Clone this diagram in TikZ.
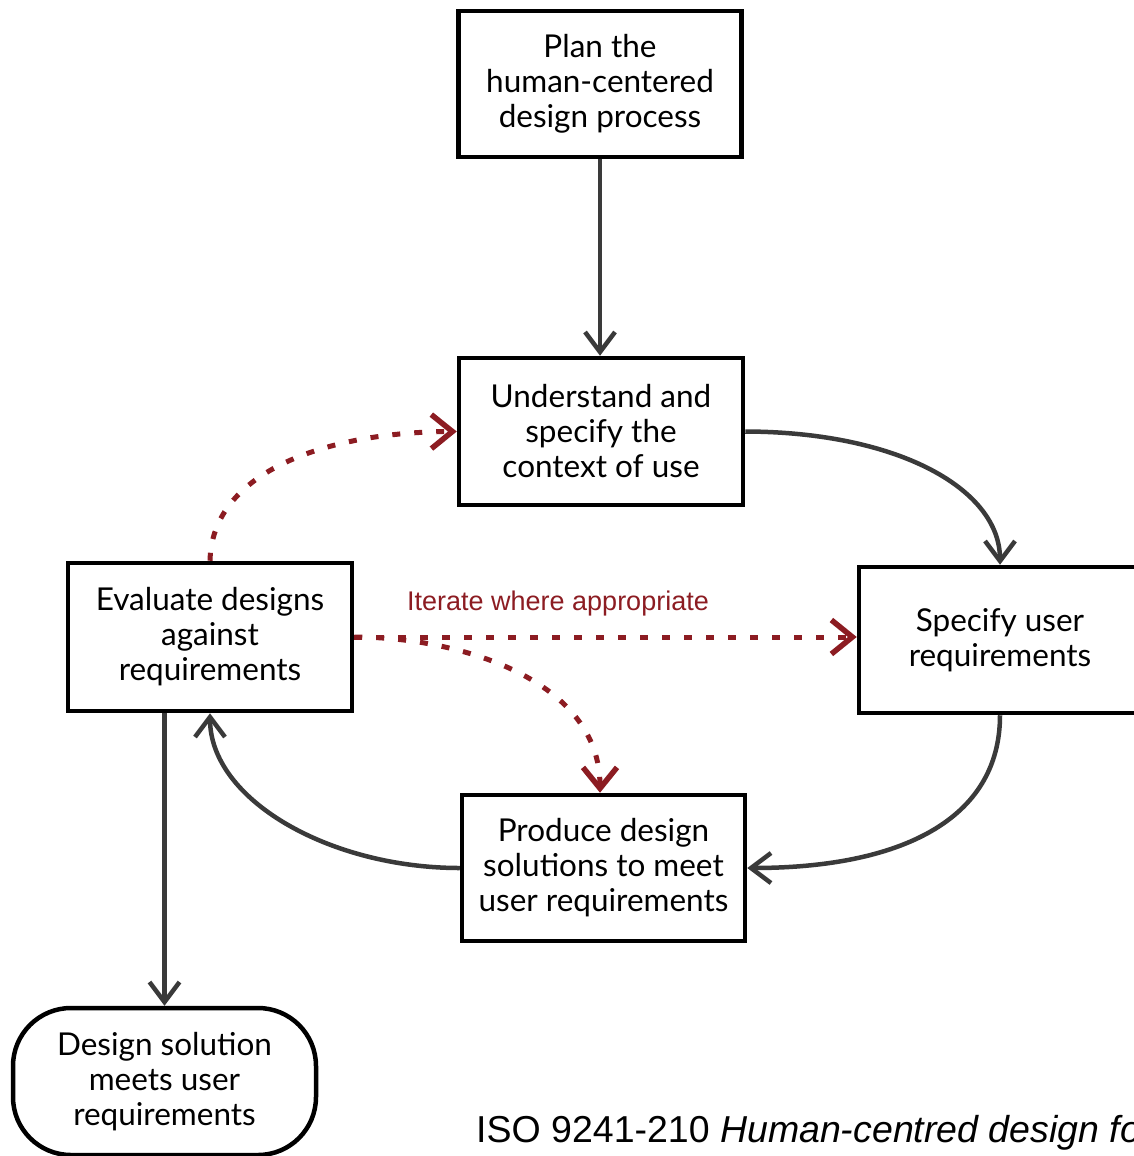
\documentclass[tikz,border=0pt]{standalone}
\usepackage{fontspec}
\setmainfont{Lato}
\newfontfamily\captionfont{Liberation Sans}
\usetikzlibrary{arrows.meta,calc}
\definecolor{linegrey}{RGB}{58,58,58}
\definecolor{iterred}{RGB}{140,28,34}
\begin{document}
\begin{tikzpicture}[x=1pt,y=-1pt,
  stepbox/.style={draw=black,line width=4.5pt,rectangle,align=center,
    font=\fontsize{31.5}{35}\selectfont,inner sep=0pt},
  flow/.style={draw=linegrey,line width=4.5pt,
    -{Straight Barb[length=20pt,width=30pt,line width=4.5pt]}},
  iterate/.style={draw=iterred,line width=5pt,dash pattern=on 8pt off 14pt,
    -{Straight Barb[length=21pt,width=34pt,line width=5.5pt]}}]
\useasboundingbox (0,0) rectangle (1134,1156);

% process steps
\node[stepbox,minimum width=283pt,minimum height=146pt] (plan) at (600,84)
  {Plan the\\human-centered\\design process};
\node[stepbox,minimum width=284pt,minimum height=147pt] (understand) at (601,431.5)
  {Understand and\\specify the\\context of use};
\node[stepbox,minimum width=284pt,minimum height=148pt] (evaluate) at (210,637)
  {Evaluate designs\\against\\requirements};
\node[stepbox,minimum width=282pt,minimum height=146pt] (specify) at (1000,640)
  {Specify user\\requirements};
\node[stepbox,minimum width=283pt,minimum height=146pt] (produce) at (603.5,868)
  {Produce design\\solutions to meet\\user requirements};
\node[stepbox,rounded corners=58pt,minimum width=303pt,minimum height=147pt] (design) at (164.5,1081.5)
  {Design solution\\meets user\\requirements};

% main cycle
\draw[flow] (plan.south) -- (plan.south |- understand.north);
\draw[flow] (understand.east) .. controls (900,432) and (1000,490) .. (specify.north);
\draw[flow] (specify.south) .. controls (1000,820) and (900,868) .. (produce.east);
\draw[flow] (produce.west) .. controls (330,868) and (210,800) .. (evaluate.south);
\draw[flow] (evaluate.south -| design.north) -- (design.north);

% iteration paths
\draw[iterate] (evaluate.north) .. controls (212,470) and (330,432) .. (understand.west);
\draw[iterate] (evaluate.east) -- (evaluate.east -| specify.west);
\draw[iterate] (evaluate.east) .. controls (460,637) and (600,680) .. (produce.north -| 600,0);
\node[text=iterred,font=\captionfont\fontsize{27}{30}\selectfont] (iterlabel) at (558,604)
  {Iterate where appropriate};

% source
\node[anchor=base west,font=\captionfont\fontsize{37.5}{40}\selectfont,inner sep=0pt] (source) at (476,1142)
  {ISO 9241-210 \textit{Human-centred design for}};
\end{tikzpicture}
\end{document}
